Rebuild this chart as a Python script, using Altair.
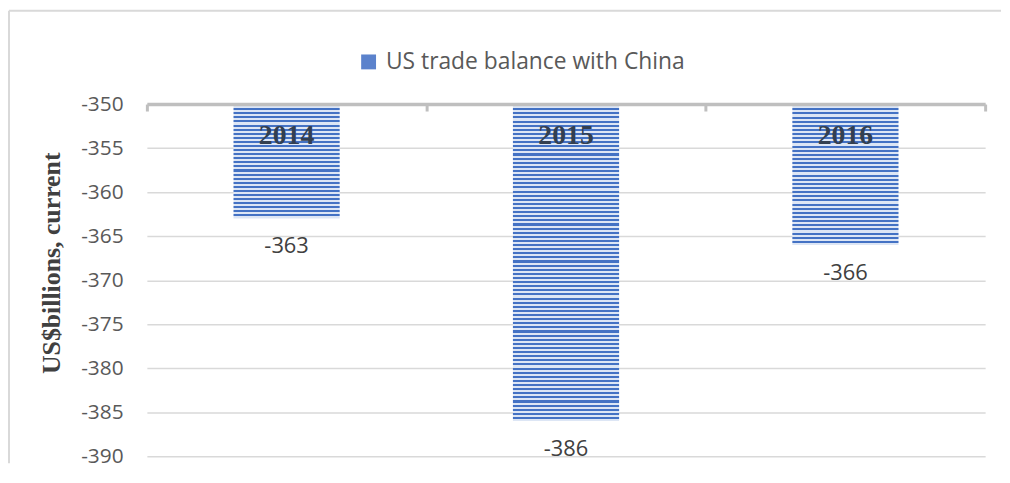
import altair as alt
import pandas as pd

# ---- data ----
years = ["2014", "2015", "2016"]
balance = [-363, -386, -366]
baseline = -350
y_ticks = [-350, -355, -360, -365, -370, -375, -380, -385, -390]
series_name = "US trade balance with China"
y_title = "US$billions, current"

# ---- styling ----
DARK = "#4472c4"
LIGHT = "#dde6f5"
STRIPE_UNITS = 0.47   # stripe period expressed in axis units (~4px)
W, H = 845, 355

df = pd.DataFrame({
    "year": years,
    "value": balance,
    "label": [str(v) for v in balance],
    "base": [baseline] * len(years),
    "series": [series_name] * len(years),
})


def stripes(value):
    n = max(1, round(abs(value - baseline) / STRIPE_UNITS))
    stops = []
    for k in range(n):
        a, m, b = k / n, (k + 0.5) / n, (k + 1) / n
        stops += [
            {"offset": a, "color": DARK},
            {"offset": m, "color": DARK},
            {"offset": m, "color": LIGHT},
            {"offset": b, "color": LIGHT},
        ]
    return {"gradient": "linear", "x1": 0, "y1": 0, "x2": 0, "y2": 1, "stops": stops}


X = alt.X(
    "year:N",
    sort=years,
    scale=alt.Scale(domain=years, paddingInner=0, paddingOuter=0),
    axis=alt.Axis(
        orient="bottom", offset=-H, labels=False, title=None,
        domainColor="#bfbfbf", domainWidth=3.5,
        ticks=True, tickBand="extent", tickColor="#bfbfbf", tickWidth=3, tickSize=7,
        grid=False, zindex=1,
    ),
)


def Y(field):
    return alt.Y(
        f"{field}:Q",
        scale=alt.Scale(domain=[-390, -350], nice=False, zero=False),
        axis=alt.Axis(
            values=y_ticks, grid=True, gridColor="#d9d9d9", gridWidth=1.5,
            domain=False, ticks=False, labelPadding=24,
            labelExpr="toString(datum.value)",
            labelFont="Open Sans", labelFontSize=21, labelColor="#595959",
            title=y_title, titleFont="Liberation Serif", titleFontWeight="bold",
            titleFontSize=26, titleColor="#404040", titleAngle=-90,
            titleX=-96, titleY=160, titleAlign="center", titleBaseline="middle",
        ),
    )


base = alt.Chart(df)

bar_layers = [
    base.transform_filter(alt.datum.year == yr)
    .mark_bar(fill=stripes(v), width=alt.RelativeBandSize(0.38))
    .encode(x=X, y=Y("value"), y2="base:Q")
    for yr, v in zip(years, balance)
]

year_labels = base.mark_text(
    font="Liberation Serif", fontWeight="bold", fontSize=28, color="#333f50",
    baseline="middle", dy=32,
).encode(x=X, y=Y("base"), text="year:N")

value_labels = base.mark_text(
    font="Open Sans", fontSize=22, color="#404040", baseline="middle", dy=28,
).encode(x=X, y=Y("value"), text="label:N")

legend_layer = base.mark_square(opacity=0).encode(
    x=X, y=Y("value"),
    color=alt.Color(
        "series:N",
        scale=alt.Scale(domain=[series_name], range=["#5b82cc"]),
        legend=alt.Legend(
            title=None, orient="none", legendX=212, legendY=-54,
            symbolType="square", symbolSize=225, symbolOpacity=1,
            symbolStrokeWidth=0, labelFont="Open Sans", labelFontSize=23,
            labelColor="#595959", labelOffset=6, labelLimit=0,
        ),
    ),
)

one = alt.Chart(pd.DataFrame({"k": [0]}))
border_top = one.mark_rule(color="#d9d9d9", strokeWidth=2).encode(
    x=alt.value(-139), x2=alt.value(W + 16), y=alt.value(-94)
)
border_left = one.mark_rule(color="#d9d9d9", strokeWidth=2).encode(
    x=alt.value(-139), y=alt.value(-94), y2=alt.value(H + 7)
)

chart = alt.layer(
    *bar_layers, year_labels, value_labels, legend_layer, border_top, border_left
).properties(
    width=W, height=H, padding=0, background="white"
).configure_view(stroke=None)

chart.save("out.html", embed_options={"renderer": "svg", "actions": False})
